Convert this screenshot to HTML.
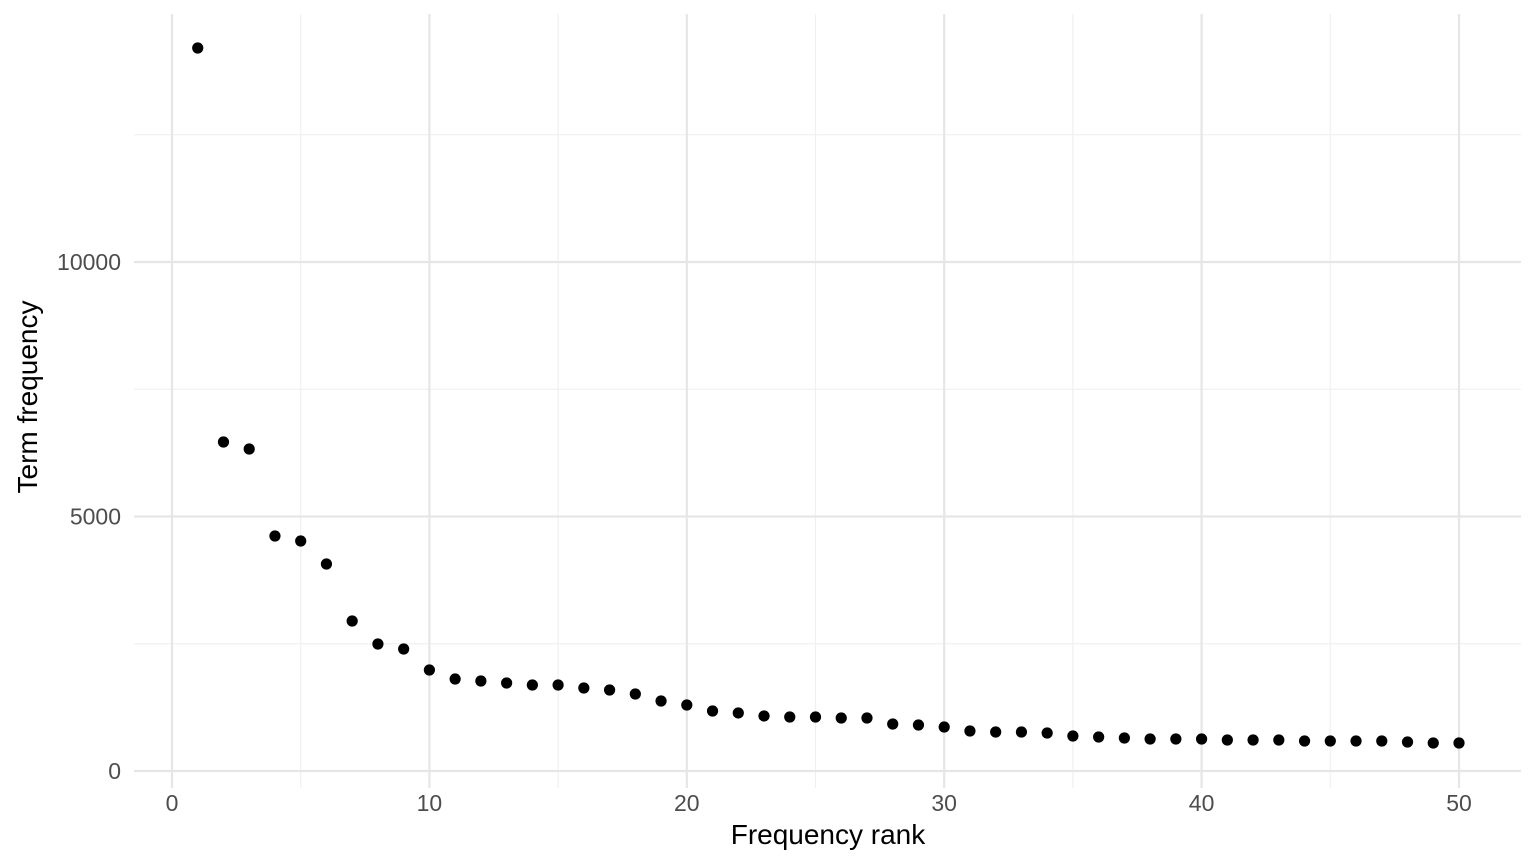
<!DOCTYPE html>
<html><head><meta charset="utf-8"><style>
html,body{margin:0;padding:0;background:#fff;}
svg{display:block;font-family:"Liberation Sans",Arial,sans-serif;}
</style></head><body>
<svg id="chart" width="1536" height="865">
<g id="grid"></g>
<g id="points"></g>
<g id="axes"></g>
<text x="828" y="844" text-anchor="middle" font-size="28" fill="#000">Frequency rank</text>
<text transform="translate(37,397) rotate(-90)" text-anchor="middle" font-size="28" fill="#000">Term frequency</text>
</svg>
<script>
const ranks = [];
for (let i = 1; i <= 50; i++) ranks.push(i);
const frequencies = [14204,6464,6326,4617,4519,4067,2947,2495,2397,1984,
1807,1768,1729,1690,1690,1631,1591,1513,1375,1297,
1179,1140,1081,1061,1061,1041,1041,923,904,864,
786,766,766,747,688,668,648,629,629,629,
609,609,609,589,589,589,589,570,550,550];
const xTicks = [0,10,20,30,40,50];
const xMinor = [5,15,25,35,45];
const yTicks = [0,5000,10000];
const yMinor = [2500,7500,12500];

const NS = "http://www.w3.org/2000/svg";
const L = 134, R = 1521, T = 14, B = 788;
const xs = v => 172 + v * (1459 - 172) / 50;
const ys = v => 771 - v * (771 - 262) / 10000;

function mk(tag, attrs, parent) {
  const e = document.createElementNS(NS, tag);
  for (const k in attrs) e.setAttribute(k, attrs[k]);
  parent.appendChild(e);
  return e;
}
const grid = document.getElementById('grid');
const axes = document.getElementById('axes');
const pts = document.getElementById('points');

yMinor.forEach(v => {
  const l = mk('line', {x1: L, x2: R, y1: ys(v), y2: ys(v), stroke: '#f0f0f0', 'stroke-width': 1.2}, grid);
  
  
});
xMinor.forEach(v => {
  const l = mk('line', {x1: xs(v), x2: xs(v), y1: T, y2: B, stroke: '#f0f0f0', 'stroke-width': 1.2}, grid);
  
  
});
yTicks.forEach(v => {
  const l = mk('line', {x1: L, x2: R, y1: ys(v), y2: ys(v), stroke: '#e6e6e6', 'stroke-width': 2.2}, grid);
  
  
  const t = mk('text', {x: 121, y: ys(v) + 8, 'text-anchor': 'end', 'font-size': 23, fill: '#4d4d4d'}, axes);
  t.textContent = v;
  
  
});
xTicks.forEach(v => {
  const l = mk('line', {x1: xs(v), x2: xs(v), y1: T, y2: B, stroke: '#e6e6e6', 'stroke-width': 2.2}, grid);
  
  
  const t = mk('text', {x: xs(v), y: 811, 'text-anchor': 'middle', 'font-size': 23, fill: '#4d4d4d'}, axes);
  t.textContent = v;
  
  
});
ranks.forEach((r, i) => {
  const c = mk('circle', {cx: xs(r), cy: ys(frequencies[i]), r: 5.6, fill: '#000'}, pts);
  
  
});
</script>
</body></html>
